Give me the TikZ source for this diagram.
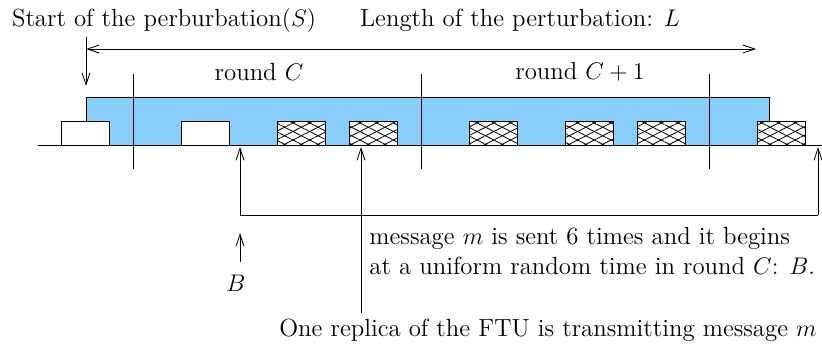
\documentclass[tikz,border=0pt]{standalone}
\usepackage{amsmath,amssymb}
\usetikzlibrary{arrows.meta,patterns.meta}
\definecolor{pertblue}{RGB}{135,206,250}

\begin{document}
\begin{tikzpicture}[x=0.5pt,y=-0.5pt,font=\fontsize{12.4}{15}\selectfont,
    >={Straight Barb[length=6pt,width=4pt]}]
                \tikzstyle{freebox}=[draw, fill=white, inner sep=0pt, minimum width=24pt, minimum height=12pt]
                \tikzstyle{msgbox}=[freebox, postaction={pattern={Lines[angle=27,distance=3.8pt]}}, postaction={pattern={Lines[angle=-27,distance=3.8pt]}}]
                \tikzstyle{txt}=[inner sep=0pt]

                \useasboundingbox (0,0) rectangle (822,349);

                \fill[pertblue] (86,97) rectangle (769,145);
                \draw (86,121) -- (86,97) -- (769,97) -- (769,121);

                \node[freebox] (f1) at (85,133) {};
                \node[freebox] (f2) at (205,133) {};
                \node[msgbox] (m1) at (301,133) {};
                \node[msgbox] (m2) at (373,133) {};
                \node[msgbox] (m3) at (493,133) {};
                \node[msgbox] (m4) at (589,133) {};
                \node[msgbox] (m5) at (661,133) {};
                \node[msgbox] (m6) at (781,133) {};

                \coordinate (t0) at (38,145);
                \coordinate (t1) at (822,145);
                \draw (t0) -- (t1);

                \coordinate (r0a) at (133,74);
                \coordinate (r0b) at (133,169);
                \coordinate (r1a) at (421,74);
                \coordinate (r1b) at (421,169);
                \coordinate (r2a) at (709,74);
                \coordinate (r2b) at (709,169);
                \draw (r0a) -- (r0b);
                \draw (r1a) -- (r1b);
                \draw (r2a) -- (r2b);

                \node[txt] (start) at (164,20) {Start of the perburbation$(S)$};
                \node[txt] (len) at (520,20) {Length of the perturbation: $L$};
                \node[txt] (rc) at (259,72) {round $C$};
                \node[txt] (rc1) at (580,72) {round $C+1$};

                \coordinate (la) at (86,49);
                \coordinate (lb) at (756,49);
                \draw[<->] (la) -- (lb);
                \coordinate (sa) at (86,37);
                \coordinate (sb) at (86,86);
                \draw[->] (sa) -- (sb);

                \coordinate (ba) at (240,215);
                \coordinate (bb) at (240,147);
                \coordinate (ea) at (818,215);
                \coordinate (eb) at (818,147);
                \draw[->] (ba) -- (bb);
                \draw[->] (ea) -- (eb);
                \draw (ba) -- (ea);

                \node[txt, anchor=west, align=left] (msg) at (369,251) {message $m$ is sent 6 times and it begins\\at a uniform random time in round $C$: $B$.};

                \node[txt] (b) at (236,283) {$B$};
                \coordinate (bc) at (240,262);
                \coordinate (bd) at (240,233);
                \draw[->] (bc) -- (bd);

                \node[txt] (rep) at (548,330) {One replica of the FTU is transmitting message $m$};
                \coordinate (ra) at (361,313);
                \coordinate (rb) at (361,147);
                \draw[->] (ra) -- (rb);
            \end{tikzpicture}
\end{document}
